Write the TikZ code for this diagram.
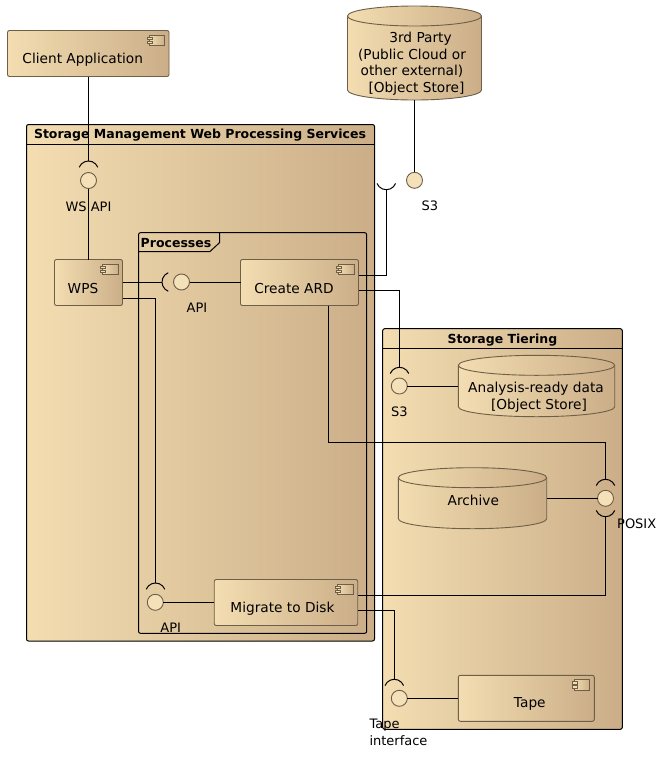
\documentclass[tikz,border=0pt]{standalone}
\usepackage{fontspec}
\setmainfont{DejaVu Sans}

\definecolor{sandL}{HTML}{F3DDB1}
\definecolor{sandR}{HTML}{CBAE88}
\definecolor{edge}{HTML}{6E5F49}

\tikzset{
  pics/socket/.style={code={
    \draw[line width=1pt] (-9.27,6.25) arc[start angle=158,end angle=22,radius=10pt];
  }},
  pics/compicon/.style={code={
    \draw[edge,left color=sandL,right color=sandR,line width=.8pt] (-20,4.5) rectangle (-4.5,15);
    \draw[edge,fill=sandL,line width=.8pt] (-22,6.5) rectangle (-17,9);
    \draw[edge,fill=sandL,line width=.8pt] (-22,10.5) rectangle (-17,13);
  }}
}
% body and top rim of a store, around its (empty) node
\newcommand{\drawstore}[2]{
  \draw[edge,line width=.9pt,left color=sandL,right color=sandR]
    ([yshift=-10pt]#1.north west) arc[start angle=180,end angle=0,x radius=#2pt,y radius=10pt]
    -- ([yshift=10pt]#1.south east) arc[start angle=0,end angle=-180,x radius=#2pt,y radius=10pt] -- cycle;
  \draw[edge,line width=.9pt] ([yshift=-10pt]#1.north west) arc[start angle=180,end angle=360,x radius=#2pt,y radius=10pt];
}

\begin{document}
\begin{tikzpicture}[x=1pt,y=-1pt,font=\fontsize{13.7}{16.5}\selectfont]
\tikzstyle{pkg}=[rectangle,draw=black,line width=1pt,rounded corners=2pt,left color=sandL,right color=sandR,inner sep=0pt,outer sep=0pt]
\tikzstyle{comp}=[rectangle,draw=edge,line width=.9pt,rounded corners=2pt,left color=sandL,right color=sandR,minimum height=46pt,inner sep=0pt,outer sep=0pt]
\tikzstyle{store}=[rectangle,inner sep=0pt,outer sep=0pt]
\tikzstyle{iface}=[circle,draw=edge,line width=.9pt,fill=sandL!90!white,minimum size=16pt,inner sep=0pt,outer sep=0pt]
\tikzstyle{conn}=[line width=1pt]
\tikzstyle{title}=[font=\fontsize{12.5}{16.5}\selectfont\bfseries,inner sep=0pt]
\tikzstyle{storetext}=[inner sep=0pt,align=center]
\tikzstyle{tag}=[font=\fontsize{13}{16.5}\selectfont,inner sep=0pt,align=left]

\useasboundingbox (0,0) rectangle (663,769);

% packages
\node[pkg,minimum width=348pt,minimum height=516.5pt] (pkgSm) at (200.5,382.75) {};
\node[title] (pkgSmTitle) at (200,135.5) {Storage Management Web Processing Services};
\draw[conn] (26.5,144) -- (374.5,144);

\node[pkg,minimum width=239.6pt,minimum height=400.6pt] (pkgTier) at (502.5,529) {};
\node[title] (pkgTierTitle) at (502.5,340) {Storage Tiering};
\draw[conn] (382.7,348.3) -- (622.3,348.3);

\node[title] (procTitle) at (176,243) {Processes};
\draw[conn,rounded corners=2pt] (138.5,633.3) -- (138.5,232.7) -- (366.7,232.7) -- (366.7,633.3) -- cycle;
\draw[conn] (138.5,251.5) -- (210,251.5) -- (219.5,242.7) -- (219.5,232.7);

% components
\node[comp,minimum width=161.5pt,label={[xshift=-5.5pt,yshift=-6pt]center:Client Application}] (client) at (88.25,53.5) {};
\node[comp,minimum width=68pt,label={[xshift=-5.5pt,yshift=-6.5pt]center:WPS}] (wps) at (88.5,282.5) {};
\node[comp,minimum width=118pt,label={[xshift=-5.5pt,yshift=-6.5pt]center:Create ARD}] (create) at (299.5,282.5) {};
\node[comp,minimum width=143.5pt,label={[xshift=-3.5pt,yshift=-6pt]center:Migrate to Disk}] (migrate) at (286,602.5) {};
\node[comp,minimum width=136pt,label={[xshift=3.5pt,yshift=-5.5pt]center:Tape}] (tape) at (526.3,698.3) {};
\pic at (client.north east) {compicon};
\pic at (wps.north east) {compicon};
\pic at (create.north east) {compicon};
\pic at (migrate.north east) {compicon};
\pic at (tape.north east) {compicon};

% stores
\node[store,minimum width=134pt,minimum height=94pt] (party) at (414.5,53) {};
\drawstore{party}{67}
\node[storetext] (partyText) at (412,63.5) {\hspace*{17pt}3rd Party\\(Public Cloud or\\other external)\\\hspace*{9pt}[Object Store]};

\node[store,minimum width=156.4pt,minimum height=61.4pt] (ard) at (536.5,386) {};
\drawstore{ard}{78.2}
\node[storetext] (ardText) at (536,397) {Analysis-ready data\\\hspace*{6pt}[Object Store]};

\node[store,minimum width=148.4pt,minimum height=61pt] (archive) at (472.5,498.2) {};
\drawstore{archive}{74.2}
\node[storetext] (archiveText) at (473.3,500) {Archive};

% free ends
\coordinate (sockWs) at (88.5,161);
\coordinate (sockApi) at (162,282);
\coordinate (sockExt) at (386.3,189.7);
\coordinate (sockTier) at (399.5,367.3);
\coordinate (sockPosixA) at (605.5,479.3);
\coordinate (sockPosixB) at (605.5,516.7);
\coordinate (sockMigrate) at (155.5,583);
\coordinate (sockTape) at (394.3,679.3);
\coordinate (wpsOut) at (122.5,298.5);
\coordinate (createOutA) at (358.5,275.5);
\coordinate (createOutB) at (358.5,290.5);
\coordinate (createOutC) at (328.5,305.5);
\coordinate (posixBend) at (328.5,442.3);
\coordinate (migrateOutA) at (358,595.3);
\coordinate (migrateOutB) at (358,610.3);

% interfaces
\node[iface] (ifWs) at (88.5,180.5) {};
\node[iface] (ifApi) at (181.5,282) {};
\node[iface] (ifExt) at (414.5,180.3) {};
\node[iface] (ifTier) at (399.3,386) {};
\node[iface] (ifPosix) at (605.5,498.3) {};
\node[iface] (ifMigrate) at (155.3,602.3) {};
\node[iface] (ifTape) at (399.3,698.3) {};

% connectors
\draw[conn] (client.south -| sockWs) -- (sockWs);
\draw[conn] (ifWs) -- (wps.north -| ifWs);
\draw[conn] (wps.east |- sockApi) -- (sockApi);
\draw[conn] (ifApi) -- (create.west |- ifApi);
\draw[conn] (wpsOut) -| (sockMigrate);
\draw[conn] (ifMigrate) -- (migrate.west |- ifMigrate);
\draw[conn] (party.south -| ifExt) -- (ifExt);
\draw[conn] (createOutA) -| (sockExt);
\draw[conn] (createOutB) -| (sockTier);
\draw[conn] (ifTier) -- (ard.west |- ifTier);
\draw[conn] (createOutC) -- (posixBend) -| (sockPosixA);
\draw[conn] (archive.east |- ifPosix) -- (ifPosix);
\draw[conn] (sockPosixB) |- (migrateOutA);
\draw[conn] (migrateOutB) -| (sockTape);
\draw[conn] (ifTape) -- (tape.west |- ifTape);

\pic at (sockWs) {socket};
\pic[rotate=90] at (sockApi) {socket};
\pic[rotate=180] at (sockExt) {socket};
\pic at (sockTier) {socket};
\pic at (sockPosixA) {socket};
\pic[rotate=180] at (sockPosixB) {socket};
\pic at (sockMigrate) {socket};
\pic at (sockTape) {socket};

% interface names
\node[tag] (tagWs) at (88.5,206.5) {WS API};
\node[tag] (tagApi) at (197,308) {API};
\node[tag] (tagExt) at (430,206) {S3};
\node[tag] (tagTier) at (399.5,411.5) {S3};
\node[tag] (tagPosix) at (636.7,524) {POSIX};
\node[tag] (tagMigrate) at (170.7,628) {API};
\node[tag,anchor=north west] (tagTape) at (369.3,719) {Tape\\interface};
\end{tikzpicture}
\end{document}
